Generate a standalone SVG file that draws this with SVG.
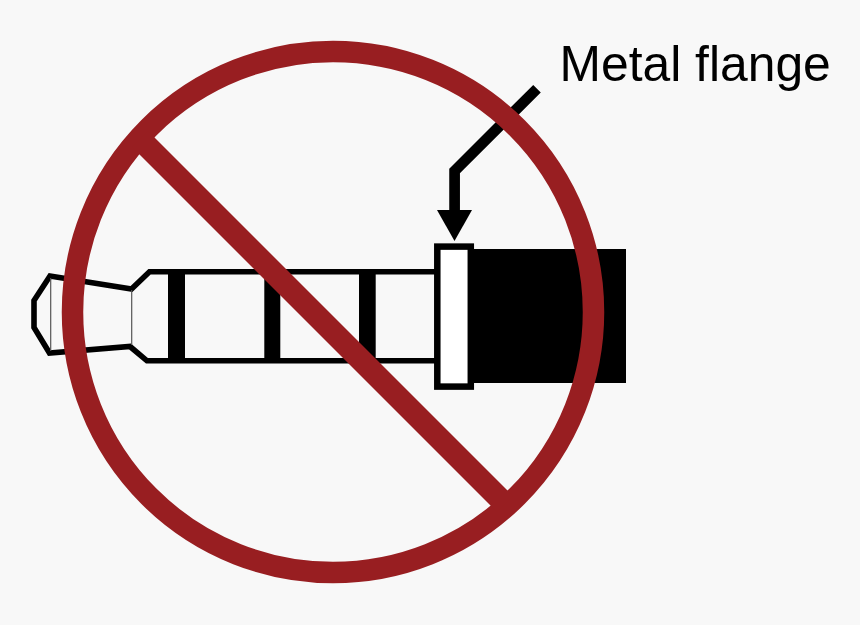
<svg xmlns="http://www.w3.org/2000/svg" width="860" height="625" viewBox="0 0 860 625">
<style>
.plug{fill:none;stroke:#000;stroke-width:5.600;stroke-linejoin:miter}
.thin{fill:none;stroke:#555;stroke-width:1.2}
.band{fill:#000}
.ban{fill:none;stroke:#981e21}
text{font-family:"Liberation Sans",Arial,Helvetica,sans-serif;font-size:49.800px;fill:#000}
</style>
<rect width="860" height="625" fill="#f8f8f8"/>
<g id="plug">
<path class="plug" d="M436 271.800H149.500L131.500 289L50 276L34 300.500V327.500L49.500 353L130 346.500L147 360.800H436"/>
<path class="thin" d="M50.700 278V351M131.700 290V345"/>
<rect class="band" x="168" y="271" width="17" height="89"/>
<rect class="band" x="264.300" y="271" width="16" height="89"/>
<rect class="band" x="359" y="271" width="16.700" height="89"/>
</g>
<g id="connector-body"><rect x="470" y="249" width="156" height="134" fill="#000"/></g>
<g id="flange"><rect x="437.300" y="246.600" width="33.500" height="140" fill="#fff" stroke="#000" stroke-width="6.500"/></g>
<g id="connectors">
<path d="M537 88.700L454.600 171V212" fill="none" stroke="#000" stroke-width="10.700"/>
<polygon points="437,210 472,210 454.500,241" fill="#000"/>
</g>
<g id="label"><text x="559.500" y="81">Metal flange</text></g>
<g id="prohibition">
<circle class="ban" stroke-width="21.500" cx="333" cy="312" r="260.500"/>
<line class="ban" stroke-width="22.600" x1="140" y1="139" x2="505" y2="504"/>
</g>
</svg>
